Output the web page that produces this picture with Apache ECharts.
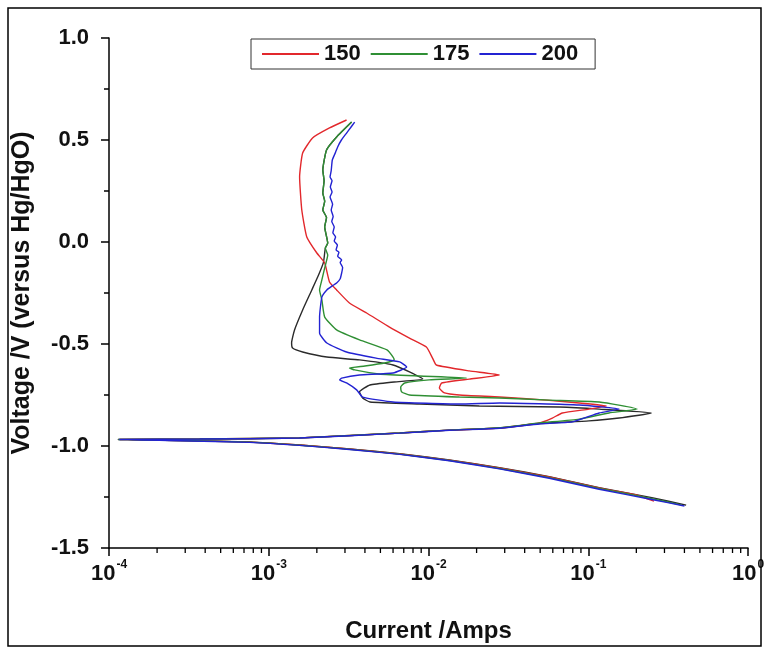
<!DOCTYPE html>
<html>
<head>
<meta charset="utf-8">
<script src="https://cdn.jsdelivr.net/npm/echarts@6/dist/echarts.min.js"></script>
<style>
  html, body { margin: 0; padding: 0; background: #fff; }
  #chart { width: 769px; height: 651px; }
</style>
</head>
<body>
<div id="chart"></div>
<script>
// Polarisation curves: current (A, log scale) vs potential (V vs Hg/HgO)
const seriesNames = ['150', '175', '200'];

// 150 (red)
const current150 = [0.258, 0.20, 0.117, 0.057, 0.0278, 0.0135, 0.0066, 0.0032, 0.00156, 0.00076,
  0.00028, 0.000117, 0.00037, 0.00156, 0.0066, 0.0135, 0.0278, 0.0494, 0.0596, 0.0688,
  0.101, 0.130, 0.0878, 0.0546, 0.0278, 0.0156, 0.0126, 0.0117, 0.0121, 0.018,
  0.0278, 0.018, 0.0112, 0.0106, 0.0097, 0.0076, 0.0057, 0.0041, 0.0032, 0.00266,
  0.0024, 0.00224, 0.002, 0.00173, 0.00161, 0.00156, 0.00163, 0.00188, 0.0024, 0.00307];
const voltage150 = [-1.270, -1.240, -1.206, -1.152, -1.108, -1.069, -1.039, -1.015, -0.995, -0.981,
  -0.973, -0.968, -0.966, -0.960, -0.936, -0.922, -0.912, -0.887, -0.863, -0.838,
  -0.819, -0.804, -0.789, -0.775, -0.760, -0.750, -0.740, -0.716, -0.691, -0.672,
  -0.652, -0.632, -0.603, -0.569, -0.515, -0.471, -0.417, -0.348, -0.299, -0.235,
  -0.196, -0.103, -0.054, 0.025, 0.157, 0.319, 0.436, 0.510, 0.559, 0.598];

// 175 (green)
const current175 = [0.385, 0.25, 0.117, 0.057, 0.0278, 0.0135, 0.0066, 0.0032, 0.00156, 0.00076,
  0.00028, 0.000115, 0.00037, 0.00156, 0.0066, 0.0135, 0.0278, 0.0494, 0.0878, 0.135,
  0.2025, 0.117, 0.057, 0.0278, 0.0156, 0.0076, 0.0068, 0.0067, 0.0071, 0.0101,
  0.0173, 0.0088, 0.0049, 0.00345, 0.0032, 0.0040, 0.0053, 0.0061, 0.0060, 0.0055,
  0.0037, 0.00266, 0.00224, 0.00215, 0.00208, 0.00215, 0.00224, 0.00234, 0.00226, 0.00234,
  0.00224, 0.00230, 0.00218, 0.00224, 0.00218, 0.00222, 0.00218, 0.0023, 0.00266, 0.0033];
const voltage175 = [-1.290, -1.258, -1.208, -1.155, -1.110, -1.071, -1.040, -1.016, -0.996, -0.981,
  -0.973, -0.968, -0.966, -0.960, -0.936, -0.922, -0.910, -0.887, -0.868, -0.838,
  -0.819, -0.784, -0.775, -0.765, -0.760, -0.750, -0.735, -0.711, -0.691, -0.676,
  -0.667, -0.657, -0.647, -0.627, -0.618, -0.608, -0.593, -0.578, -0.564, -0.529,
  -0.480, -0.431, -0.368, -0.284, -0.235, -0.186, -0.127, -0.064, -0.030, -0.005,
  0.074, 0.120, 0.157, 0.200, 0.240, 0.300, 0.353, 0.451, 0.515, 0.588];

// 200 (blue)
const current200 = [0.40, 0.25, 0.117, 0.057, 0.0278, 0.0135, 0.0066, 0.0032, 0.00156, 0.00076,
  0.00028, 0.000116, 0.00037, 0.00156, 0.0066, 0.0135, 0.0278, 0.0494, 0.0794, 0.117,
  0.156, 0.0878, 0.0278, 0.0156, 0.0060, 0.00387, 0.00355, 0.00307, 0.00278, 0.00286,
  0.0037, 0.0060, 0.0073, 0.0066, 0.0047, 0.00307, 0.00231, 0.00208, 0.00208, 0.00215,
  0.00231, 0.00250, 0.00266, 0.00280, 0.00286, 0.00290, 0.00280, 0.00286, 0.00270, 0.00275,
  0.00264, 0.00269, 0.00257, 0.00262, 0.00252, 0.00257, 0.00248, 0.00253, 0.00246, 0.00251,
  0.00242, 0.00249, 0.00243, 0.00249, 0.00242, 0.00246, 0.00250, 0.00262, 0.00270, 0.00285,
  0.00307, 0.00325, 0.00345];
const voltage200 = [-1.294, -1.262, -1.212, -1.158, -1.112, -1.072, -1.041, -1.017, -0.997, -0.982,
  -0.974, -0.968, -0.966, -0.961, -0.937, -0.923, -0.913, -0.892, -0.882, -0.838,
  -0.819, -0.799, -0.789, -0.794, -0.784, -0.760, -0.725, -0.691, -0.676, -0.667,
  -0.652, -0.642, -0.613, -0.588, -0.569, -0.539, -0.495, -0.446, -0.368, -0.270,
  -0.235, -0.215, -0.201, -0.180, -0.152, -0.125, -0.100, -0.088, -0.070, -0.050,
  -0.039, -0.015, 0.005, 0.025, 0.045, 0.074, 0.100, 0.125, 0.157, 0.185,
  0.221, 0.245, 0.270, 0.300, 0.319, 0.350, 0.402, 0.440, 0.466, 0.500,
  0.534, 0.560, 0.588];

// unlabelled reference curve (black)
const currentRef = [0.41, 0.25, 0.117, 0.057, 0.0278, 0.0135, 0.0066, 0.0032, 0.00156, 0.00076,
  0.00028, 0.000114, 0.00037, 0.00156, 0.0066, 0.0135, 0.0278, 0.0494, 0.101, 0.156,
  0.248, 0.117, 0.0659, 0.0208, 0.0088, 0.0043, 0.00387, 0.0037, 0.0043, 0.0061,
  0.0092, 0.0076, 0.0060, 0.0037, 0.00231, 0.00163, 0.00141, 0.00139, 0.00145, 0.00163,
  0.00186, 0.00205, 0.00220, 0.00226, 0.00234, 0.00224, 0.00230, 0.00218, 0.00224, 0.00218,
  0.00222, 0.00218, 0.0023, 0.00266, 0.0033];
const voltageRef = [-1.290, -1.253, -1.204, -1.150, -1.106, -1.068, -1.038, -1.014, -0.995, -0.980,
  -0.973, -0.968, -0.966, -0.961, -0.936, -0.922, -0.912, -0.890, -0.877, -0.863,
  -0.838, -0.819, -0.809, -0.804, -0.794, -0.784, -0.765, -0.735, -0.701, -0.686,
  -0.672, -0.637, -0.603, -0.578, -0.564, -0.539, -0.520, -0.495, -0.431, -0.333,
  -0.235, -0.162, -0.100, -0.030, -0.005, 0.074, 0.120, 0.157, 0.200, 0.240,
  0.300, 0.353, 0.451, 0.515, 0.588];

// axis ranges and ticks
const currentMin = 1e-4, currentMax = 1;
const voltageMin = -1.5, voltageMax = 1.0, voltageStep = 0.5;
const minorMantissas = [2, 3, 4, 5, 6, 7, 8, 9];
const minorDecades = [1e-4, 1e-3, 1e-2, 1e-1];

const pairs = (xs, ys) => xs.map((x, i) => [x, ys[i]]);
const minorTicks = [];
minorDecades.forEach(d => minorMantissas.forEach(m => minorTicks.push([m * d])));

const FONT = 'Liberation Sans, Arial, sans-serif';
const lineSeries = (name, data, color, z) => ({
  name, type: 'line', data, showSymbol: false, symbol: 'none', smooth: 0.15,
  lineStyle: { color, width: 1.4 }, itemStyle: { color }, z, clip: true
});

const chart = echarts.init(document.getElementById('chart'), null, { renderer: 'canvas' });
chart.setOption({
  animation: false,
  backgroundColor: '#fff',
  textStyle: { fontFamily: FONT },
  graphic: [{
    type: 'rect', shape: { x: 8, y: 8, width: 753, height: 638 },
    style: { fill: null, stroke: '#000', lineWidth: 1.5 }, z: 100
  }],
  grid: { left: 109, top: 38, width: 639, height: 510 },
  legend: {
    data: seriesNames, left: 251, top: 39,
    orient: 'horizontal', icon: 'rect', itemWidth: 57, itemHeight: 2, itemGap: 10,
    padding: [4, 17, 4, 11], borderColor: '#333', borderWidth: 1,
    textStyle: { fontFamily: FONT, fontSize: 22, fontWeight: 'bold', color: '#111' }
  },
  xAxis: {
    type: 'log', logBase: 10, min: currentMin, max: currentMax,
    name: 'Current /Amps', nameLocation: 'middle', nameGap: 71,
    nameTextStyle: { fontFamily: FONT, fontSize: 24, fontWeight: 'bold', color: '#111' },
    axisLine: { onZero: false, lineStyle: { color: '#000', width: 1.5 } },
    axisTick: { show: true, inside: false, length: 8, lineStyle: { color: '#000', width: 1.5 } },
    splitLine: { show: false },
    axisLabel: {
      margin: 11,
      formatter: v => '{b|10}{e|' + Math.round(Math.log10(v)) + '}',
      rich: {
        b: { fontFamily: FONT, fontSize: 22, fontWeight: 'bold', color: '#111', lineHeight: 26, verticalAlign: 'bottom' },
        e: { fontFamily: FONT, fontSize: 12, fontWeight: 'bold', color: '#111', lineHeight: 26, verticalAlign: 'top', padding: [0, 0, 0, 1] }
      }
    }
  },
  yAxis: {
    type: 'value', min: voltageMin, max: voltageMax, interval: voltageStep,
    name: 'Voltage /V (versus Hg/HgO)', nameLocation: 'middle', nameGap: 74, nameRotate: 90,
    nameTextStyle: { fontFamily: FONT, fontSize: 25, fontWeight: 'bold', color: '#111' },
    axisLine: { show: true, onZero: false, lineStyle: { color: '#000', width: 1.5 } },
    axisTick: { show: true, inside: false, length: 8, lineStyle: { color: '#000', width: 1.5 } },
    minorTick: { show: true, splitNumber: 2, length: 5, lineStyle: { color: '#000', width: 1.5 } },
    splitLine: { show: false },
    axisLabel: {
      margin: 20, fontFamily: FONT, fontSize: 22, fontWeight: 'bold', color: '#111',
      formatter: v => v.toFixed(1)
    }
  },
  series: [
    lineSeries('ref', pairs(currentRef, voltageRef), '#2b2b2b', 2),
    lineSeries('150', pairs(current150, voltage150), '#e2282c', 3),
    lineSeries('175', pairs(current175, voltage175), '#2f8f34', 4),
    lineSeries('200', pairs(current200, voltage200), '#2323d2', 5),
    {
      // intermediate log-decade ticks along the current axis
      type: 'custom', name: 'minor', data: minorTicks, clip: false, silent: true, z: 6,
      renderItem: (params, api) => {
        const p = api.coord([api.value(0), voltageMin]);
        return { type: 'line', shape: { x1: p[0], y1: p[1], x2: p[0], y2: p[1] + 5 },
                 style: { stroke: '#000', lineWidth: 1.3 } };
      }
    }
  ]
});
</script>
</body>
</html>
